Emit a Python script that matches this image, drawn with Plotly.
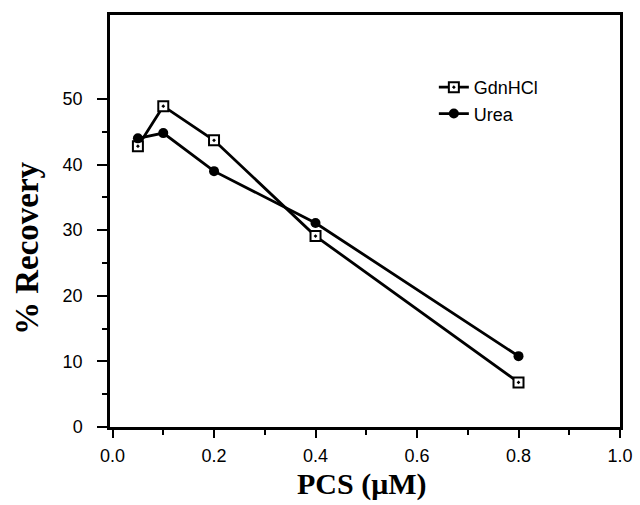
import plotly.graph_objects as go

pcs = [0.05, 0.1, 0.2, 0.4, 0.8]
gdnhcl = [42.8, 48.9, 43.7, 29.1, 6.8]
urea = [44.0, 44.8, 39.0, 31.1, 10.8]

x_ticks = [0.0, 0.2, 0.4, 0.6, 0.8, 1.0]
x_tick_labels = ["0.0", "0.2", "0.4", "0.6", "0.8", "1.0"]
x_minor = [0.1, 0.3, 0.5, 0.7, 0.9]
y_ticks = [0, 10, 20, 30, 40, 50]
y_minor = [5, 15, 25, 35, 45]

fig = go.Figure()
fig.add_trace(go.Scatter(
    x=pcs, y=gdnhcl, name="GdnHCl", mode="lines+markers",
    line=dict(color="black", width=2.8),
    marker=dict(symbol="square-dot", size=10, color="white",
                line=dict(color="black", width=2)),
))
fig.add_trace(go.Scatter(
    x=pcs, y=urea, name="Urea", mode="lines+markers",
    line=dict(color="black", width=2.8),
    marker=dict(symbol="circle", size=10, color="black"),
))

fig.update_layout(
    width=640, height=505,
    margin=dict(l=110, r=20, t=15, b=78),
    paper_bgcolor="white", plot_bgcolor="white",
    showlegend=True,
    legend=dict(x=0.635, y=0.869, xanchor="left", yanchor="top",
                bgcolor="rgba(0,0,0,0)",
                font=dict(family="Liberation Sans, Arial", size=18, color="black"),
                itemwidth=30, tracegroupgap=0),
    font=dict(family="Liberation Sans, Arial", color="black"),
    annotations=[
        dict(text="<b>% Recovery</b>", textangle=-90,
             xref="paper", yref="paper", x=-0.163, y=0.434,
             xanchor="center", yanchor="middle", showarrow=False,
             font=dict(family="Liberation Serif, Times New Roman", size=33, color="black")),
        dict(text="<b>PCS (\u03bcM)</b>",
             xref="paper", yref="paper", x=0.494, y=-0.1835,
             xanchor="center", yanchor="bottom", showarrow=False,
             font=dict(family="Liberation Serif, Times New Roman", size=30, color="black")),
    ],
)
fig.update_xaxes(
    range=[-0.005, 1.0], tickvals=x_ticks, ticktext=x_tick_labels,
    ticks="outside", ticklen=8, tickwidth=2, tickcolor="black",
    showline=True, linecolor="black", linewidth=2.5, mirror=True,
    showgrid=False, zeroline=False, ticklabelstandoff=3, automargin=False,
    tickfont=dict(family="Liberation Sans, Arial", size=18, color="black"),
    minor=dict(tickvals=x_minor, ticks="outside", ticklen=5, tickwidth=2, tickcolor="black", showgrid=False),
)
fig.update_yaxes(
    range=[0, 62.8], tickvals=y_ticks,
    ticks="outside", ticklen=10, tickwidth=2, tickcolor="black",
    showline=True, linecolor="black", linewidth=2.5, mirror=True,
    showgrid=False, zeroline=False, ticklabelstandoff=11, automargin=False,
    tickfont=dict(family="Liberation Sans, Arial", size=18, color="black"),
    minor=dict(tickvals=y_minor, ticks="outside", ticklen=5, tickwidth=2, tickcolor="black", showgrid=False),
)

fig.write_html(
    "out.html",
    config={"displayModeBar": False},
    post_script=(
        "document.documentElement.style.overflow='hidden';"
        "document.body.style.margin='0';"
        "document.body.style.overflow='hidden';"
    ),
)
